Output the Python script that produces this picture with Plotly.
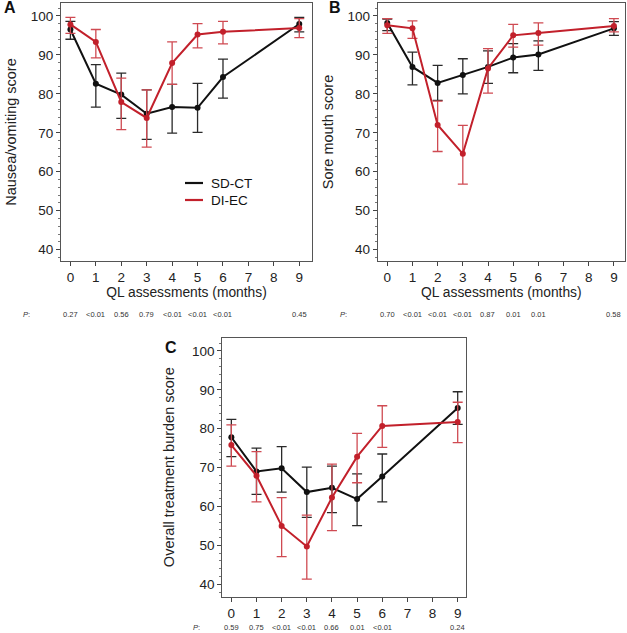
import plotly.graph_objects as go

months = [0, 1, 2, 3, 4, 5, 6, 9]
tick_vals = [0, 1, 2, 3, 4, 5, 6, 7, 8, 9]

# A: nausea/vomiting
a_sd_mean = [96.5, 82.6, 79.8, 74.9, 76.6, 76.4, 84.3, 97.9]
a_sd_lo = [94.0, 76.6, 73.7, 68.3, 69.9, 70.1, 78.9, 95.9]
a_sd_hi = [98.6, 87.5, 85.3, 81.0, 82.4, 82.7, 88.9, 99.6]
a_di_mean = [97.8, 93.3, 77.9, 73.8, 87.9, 95.2, 95.9, 96.9]
a_di_lo = [95.5, 89.2, 70.8, 66.3, 82.4, 91.8, 92.8, 94.4]
a_di_hi = [99.6, 96.5, 84.0, 81.0, 93.3, 98.0, 98.6, 99.3]
a_p = ["0.27", "<0.01", "0.56", "0.79", "<0.01", "<0.01", "<0.01", "0.45"]

# B: sore mouth
b_sd_mean = [98.2, 86.9, 82.8, 84.8, 86.9, 89.3, 90.1, 96.8]
b_sd_lo = [96.2, 82.3, 78.3, 80.0, 82.7, 85.4, 86.0, 95.0]
b_sd_hi = [99.2, 90.7, 87.3, 89.0, 91.0, 92.9, 93.6, 98.5]
b_di_mean = [97.6, 96.8, 72.0, 64.6, 86.5, 95.0, 95.6, 97.4]
b_di_lo = [95.5, 94.2, 65.2, 56.8, 80.2, 92.0, 92.5, 95.9]
b_di_hi = [99.3, 98.7, 78.1, 71.9, 91.6, 97.8, 98.2, 99.3]
b_p = ["0.70", "<0.01", "<0.01", "<0.01", "0.87", "0.01", "0.01", "0.58"]

# C: overall treatment burden
c_sd_mean = [77.8, 69.0, 69.8, 63.7, 64.8, 61.9, 67.7, 85.3]
c_sd_lo = [72.8, 63.1, 63.7, 57.2, 58.4, 55.1, 61.2, 81.1]
c_sd_hi = [82.4, 75.0, 75.4, 70.1, 70.4, 68.4, 73.5, 89.5]
c_di_mean = [75.8, 67.9, 55.0, 49.7, 62.3, 72.8, 80.7, 81.7]
c_di_lo = [70.4, 61.2, 47.1, 41.3, 53.8, 66.1, 75.2, 76.4]
c_di_hi = [81.0, 74.1, 62.3, 57.8, 70.9, 78.8, 85.9, 86.8]
c_p = ["0.59", "0.75", "<0.01", "<0.01", "0.66", "0.01", "<0.01", "0.24"]

W, H = 627, 633
FONT = "Liberation Sans, Arial, sans-serif"
BLACK = "#111111"
RED = "#c2202b"
RED_ERR = "#cf4a52"


def series(mean, lo, hi, name, color, err_color, xa, ya):
    return go.Scatter(
        x=months, y=mean, name=name, mode="lines+markers",
        line=dict(color=color, width=2),
        marker=dict(color=color, size=6),
        error_y=dict(type="data", symmetric=False,
                     array=[h - m for h, m in zip(hi, mean)],
                     arrayminus=[m - l for m, l in zip(mean, lo)],
                     color=err_color, thickness=1.3, width=5),
        xaxis=xa, yaxis=ya, showlegend=False,
    )


fig = go.Figure()
panels = [
    ("x", "y", a_sd_mean, a_sd_lo, a_sd_hi, a_di_mean, a_di_lo, a_di_hi),
    ("x2", "y2", b_sd_mean, b_sd_lo, b_sd_hi, b_di_mean, b_di_lo, b_di_hi),
    ("x3", "y3", c_sd_mean, c_sd_lo, c_sd_hi, c_di_mean, c_di_lo, c_di_hi),
]
for xa, ya, sm, sl, sh, dm, dl, dh in panels:
    fig.add_trace(series(sm, sl, sh, "SD-CT", BLACK, "#2a2a2a", xa, ya))
    fig.add_trace(series(dm, dl, dh, "DI-EC", RED, RED_ERR, xa, ya))


def px_x(v):
    return v / W


def px_y(v):
    return 1 - v / H


axis_common = dict(
    showline=True, linecolor="#555555", linewidth=1, mirror=True,
    showgrid=False, zeroline=False, ticks="outside", ticklen=4,
    tickcolor="#444444", tickfont=dict(size=13.5, color="#222222"),
)

xt = dict(tickmode="array", tickvals=tick_vals, ticktext=[str(v) for v in tick_vals])
yt = dict(tickmode="array", tickvals=[40, 50, 60, 70, 80, 90, 100],
          minor=dict(ticks="outside", ticklen=2, dtick=2, tickcolor="#777777"))

xtitle_font = dict(size=13.8, color="#222222")
ytitle_font = dict(size=14.5, color="#222222")

fig.update_layout(
    width=W, height=H,
    margin=dict(l=0, r=0, t=0, b=0),
    paper_bgcolor="white", plot_bgcolor="white",
    font=dict(family=FONT, color="#222222"),
    showlegend=False,
    xaxis=dict(domain=[px_x(61), px_x(312)], range=[-0.37, 9.5], anchor="y",
               title=dict(text="QL assessments (months)", font=xtitle_font, standoff=3),
               **xt, **axis_common),
    yaxis=dict(domain=[px_y(261), px_y(3)], range=[37.1, 103.3], anchor="x",
               title=dict(text="Nausea/vomiting score", font=ytitle_font, standoff=10),
               **yt, **axis_common),
    xaxis2=dict(domain=[px_x(377.7), px_x(625)], range=[-0.38, 9.44], anchor="y2",
                title=dict(text="QL assessments (months)", font=xtitle_font, standoff=3),
                **xt, **axis_common),
    yaxis2=dict(domain=[px_y(261), px_y(3)], range=[37.1, 103.3], anchor="x2",
                title=dict(text="Sore mouth score", font=ytitle_font, standoff=10),
                **yt, **axis_common),
    xaxis3=dict(domain=[px_x(222.3), px_x(466)], range=[-0.36, 9.33], anchor="y3",
                **xt, **axis_common),
    yaxis3=dict(domain=[px_y(596.7), px_y(337.7)], range=[36.8, 103.4], anchor="x3",
                title=dict(text="Overall treatment burden score", font=ytitle_font, standoff=13),
                **yt, **axis_common),
)

# legend drawn inside panel A (line samples only, as in the original)
for name, color, ly in [("SD-CT", BLACK, 183), ("DI-EC", RED, 200)]:
    fig.add_shape(type="line", xref="paper", yref="paper",
                  x0=px_x(185), x1=px_x(203), y0=px_y(ly), y1=px_y(ly),
                  line=dict(color=color, width=2.2))
    fig.add_annotation(text=name, xref="paper", yref="paper",
                       x=px_x(209), y=px_y(ly), xanchor="left", yanchor="middle",
                       showarrow=False, font=dict(size=13.5, color="#111111"))

# panel letters
for letter, lx, ly in [("A", 2, 8), ("B", 327, 8), ("C", 163, 347)]:
    fig.add_annotation(text="<b>%s</b>" % letter, xref="paper", yref="paper",
                       x=px_x(lx), y=px_y(ly), xanchor="left", yanchor="middle",
                       showarrow=False, font=dict(size=16, color="#111111"))

# P-value rows
for xa, pvals, plx, ply in [("x", a_p, 26, 314), ("x2", b_p, 343, 314), ("x3", c_p, 196, 627)]:
    fig.add_annotation(text="<i>P</i>:", xref="paper", yref="paper",
                       x=px_x(plx), y=px_y(ply), xanchor="center", yanchor="middle",
                       showarrow=False, font=dict(size=7.5, color="#333333"))
    for m, p in zip(months, pvals):
        fig.add_annotation(text=p, xref=xa, yref="paper", x=m, y=px_y(ply),
                           xanchor="center", yanchor="middle", showarrow=False,
                           font=dict(size=7.5, color="#333333"))

fig.write_html("out.html", config={"displayModeBar": False},
               post_script="document.body.style.margin='0';")
